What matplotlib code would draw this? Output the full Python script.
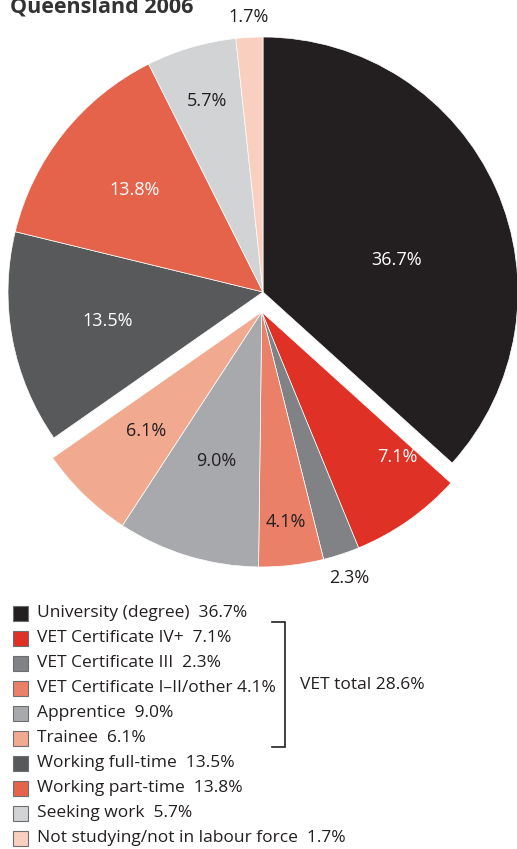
import numpy as np
import matplotlib.pyplot as plt
from matplotlib.patches import Rectangle

plt.rcParams['font.family'] = ['Open Sans', 'DejaVu Sans']

# Data
categories = ["University (degree)", "VET Certificate IV+", "VET Certificate III",
              "VET Certificate I\u2013II/other", "Apprentice", "Trainee",
              "Working full-time", "Working part-time", "Seeking work",
              "Not studying/not in labour force"]
values = [36.7, 7.1, 2.3, 4.1, 9.0, 6.1, 13.5, 13.8, 5.7, 1.7]
colors = ['#231f20', '#e03127', '#808285', '#ea8068', '#a7a9ac',
          '#f1a98f', '#58595b', '#e5634a', '#d1d3d4', '#f9d0c0']
vet_idx = [1, 2, 3, 4, 5]

# label placement (fraction of radius, angle nudge in degrees, text colour)
label_r = [0.54, 0.78, 1.10, 0.83, 0.61, 0.65, 0.62, 0.645, 0.78, 1.08]
label_nudge = [-10.5, 8, 0, 0, 0, 0, 0, 0, 0, 0]
label_col = ['white', 'white', '#231f20', '#231f20', '#231f20', '#231f20',
             'white', 'white', '#231f20', '#231f20']
legend_gap = ['  ', '  ', '  ', ' ', '  ', '  ', '  ', '  ', '  ', '  ']

W, H = 517, 849
text_col = '#231f20'

fig = plt.figure(figsize=(W / 100, H / 100), dpi=100)
ax = fig.add_axes([0, 0, 1, 1])


def py(y):
    # pixel row (from top) -> data y
    return H - y


cx, cy, R = 263, py(292), 255
shift = 20

wedges, _ = ax.pie(values, colors=colors, startangle=90, counterclock=False,
                   radius=R, center=(cx, cy),
                   wedgeprops=dict(edgecolor='white', linewidth=0.5))

# pull the VET group out along its mid angle
cum = np.concatenate([[0], np.cumsum(values)])
vet_mid = 90 - 360 * (cum[vet_idx[0]] + sum(values[i] for i in vet_idx) / 2) / 100
vx = cx + shift * np.cos(np.radians(vet_mid))
vy = cy + shift * np.sin(np.radians(vet_mid))
for i in vet_idx:
    wedges[i].set_center((vx, vy))

# slice labels
for i, v in enumerate(values):
    ang = 90 - 360 * (cum[i] + v / 2) / 100 + label_nudge[i]
    ox, oy = (vx, vy) if i in vet_idx else (cx, cy)
    tx = ox + label_r[i] * R * np.cos(np.radians(ang))
    ty = oy + label_r[i] * R * np.sin(np.radians(ang))
    ax.text(tx, ty, f"{v:.1f}%", ha='center', va='center', fontsize=13,
            color=label_col[i])

# title (cut off at the top like the source)
ax.text(10, py(12), "Queensland 2006", fontsize=15.5, fontweight='bold',
        color='#333333', ha='left', va='baseline')

# legend
for i, (name, v) in enumerate(zip(categories, values)):
    yc = py(613 + 25 * i)
    ax.add_patch(Rectangle((13, yc - 7.5), 15, 15, facecolor=colors[i],
                           edgecolor='#6d6e71', linewidth=0.8))
    ax.text(37, yc, f"{name}{legend_gap[i]}{v:.1f}%", fontsize=12.5,
            color=text_col, ha='left', va='center')

# VET bracket
ax.plot([272, 285, 285, 272], [py(622), py(622), py(747), py(747)],
        color=text_col, linewidth=1.2, solid_joinstyle='miter')
vet_total = sum(values[i] for i in vet_idx)
ax.text(300, py(685), f"VET total {vet_total:.1f}%", fontsize=12.5,
        color=text_col, ha='left', va='center')

ax.set_xlim(0, W)
ax.set_ylim(0, H)
ax.set_aspect('equal')
ax.axis('off')

fig.savefig("out.png", dpi=100)
